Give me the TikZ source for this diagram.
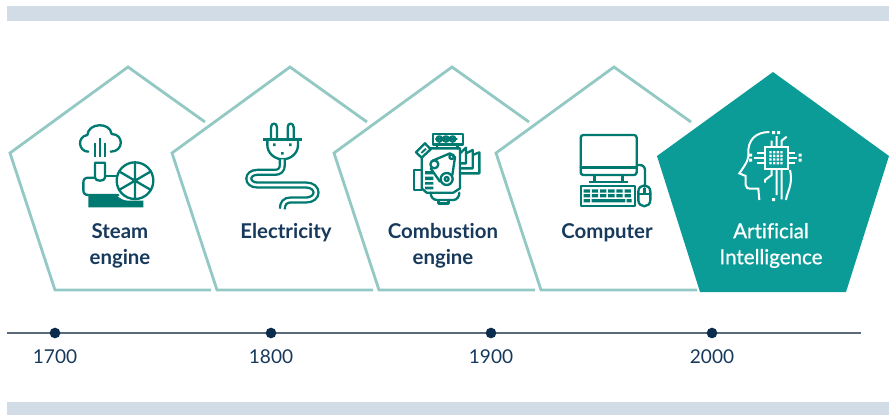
\documentclass[tikz,border=0pt]{standalone}
\usepackage{fontspec}
\setmainfont[Ligatures=NoCommon]{Lato}
\definecolor{teal1}{HTML}{007A70}
\definecolor{fillt}{HTML}{0C9C97}
\definecolor{pent}{HTML}{93C9C5}
\definecolor{barc}{HTML}{D1DCE6}
\definecolor{navy}{HTML}{0B2C4D}
\definecolor{txtc}{HTML}{17395C}
\definecolor{axisc}{HTML}{5A6A78}
\tikzset{
 x=0.75pt,y=-0.75pt,
 pentline/.style={draw=pent,line width=2.1pt,line cap=butt,line join=miter},
 axisdot/.style={circle,fill=navy,inner sep=0pt,minimum size=8pt},
 year/.style={text=txtc,font=\fontsize{14.3pt}{15pt}\selectfont,inner sep=0pt},
 lab/.style={text=txtc,font=\fontsize{15.3pt}{19.5pt}\selectfont\bfseries,align=center,inner sep=0pt},
 ic/.style={draw=teal1,line width=1.75pt,line cap=round,line join=round},
 icw/.style={draw=white,line width=1.5pt,line cap=butt,line join=miter},
 zoomed/.style={x=0.25pt,y=-0.25pt}
}
\begin{document}
\begin{tikzpicture}
\useasboundingbox (0,0) rectangle (889,415);
\fill[barc] (7,6) rectangle (889,21);
\fill[barc] (7,402) rectangle (889,415);
% pentagons
\foreach \d in {0,162,324,486}{
 \draw[pentline,xshift=\d*0.75pt] (205,122) -- (128,67) -- (10,153) -- (55,290) -- (211,290);
}
\fill[fillt] (773,72) -- (889,156) -- (846,292) -- (700,292) -- (657,156) -- cycle;
% labels
\node[lab] (steam) at (120,245.5) {Steam\\engine};
\node[lab] (elec) at (286,233) {Electricity};
\node[lab] (comb) at (443,245.5) {Combustion\\engine};
\node[lab] (comp) at (607,233) {Computer};
\node[lab,text=white,font=\fontsize{15.4pt}{19.5pt}\selectfont\addfontfeature{FakeBold=0.8}] (ai) at (771,245.5) {Artificial\\Intelligence};
% axis
\coordinate (axl) at (7,333); \coordinate (axr) at (861,333);
\draw[axisc,line width=0.85pt] (axl) -- (axr);
\node[axisdot] (d1) at (55,333) {}; \node[axisdot] (d2) at (271,333) {};
\node[axisdot] (d3) at (491,333) {}; \node[axisdot] (d4) at (712,333) {};
\node[year] (y1) at (55,357) {1700}; \node[year] (y2) at (271,357) {1800};
\node[year] (y3) at (491,357) {1900}; \node[year] (y4) at (712,357) {2000};
% steam icon
\begin{scope}[shift={(60,110)},zoomed]
\draw[ic] (85,125) .. controls (55,125) and (50,80) .. (82,75) .. controls (85,38) and (150,35) .. (155,72) .. controls (192,72) and (192,125) .. (152,125);
\draw[ic,line cap=butt] (105,100)--(105,142) (120,85)--(120,142) (135,100)--(135,142);
\draw[ic] (105,158)--(135,158)--(135,203) .. controls (135,215) and (105,215) .. (105,203) -- cycle;
\draw[ic] (105,203)--(85,203) .. controls (75,203) and (70,208) .. (70,218) -- (70,240) .. controls (70,250) and (75,255) .. (85,255) -- (175,255);
\draw[ic] (135,198)--(172,198);
\fill[teal1] (85,258)--(172,258) .. controls (180,265) and (190,272) .. (205,272) -- (250,272)--(250,292)--(85,292)--cycle;
\draw[ic] (225,212) circle (55);
\draw[ic] (225,157)--(225,267) (177,184)--(273,240) (177,240)--(273,184);
\end{scope}
% plug icon
\begin{scope}[shift={(230,110)},zoomed]
\draw[ic] (123,85)--(123,52) .. controls (123,37) and (141,37) .. (141,52) -- (141,85);
\draw[ic] (173,85)--(173,52) .. controls (173,37) and (191,37) .. (191,52) -- (191,85);
\draw[teal1,line width=1.8pt] (99,88)--(217,88);
\draw[ic] (112,90)--(112,105) .. controls (112,130) and (135,148) .. (158,148) .. controls (182,148) and (204,130) .. (204,105) -- (204,90);
\fill[teal1] (129,100) rectangle (137,108) (177,100) rectangle (185,108) (153,126) rectangle (161,134);
\draw[teal1,line width=1.75pt,double=white,double distance=1.9pt] (157,148)--(157,165) .. controls (157,180) and (148,187) .. (135,187) -- (82,187) .. controls (48,187) and (48,225) .. (82,225) -- (228,225) .. controls (268,225) and (268,270) .. (228,270) -- (182,270) .. controls (165,270) and (157,280) .. (157,297);
\end{scope}
% engine icon
\begin{scope}[shift={(400,120)},zoomed]
\draw[ic] (98,42) rectangle (188,73);
\draw[ic] (118,57) circle (8) (138,57) circle (8) (158,57) circle (8);
\draw[ic] (108,57)--(170,57);
\draw[ic] (110,73)--(110,85) (172,73)--(172,85);
\draw[ic] (88,85)--(180,85)--(180,205)--(160,218)--(80,218)--(65,205)--(65,115);
\draw[ic] (65,150)--(42,150)--(42,210)--(65,210);
\draw[ic] (48,97)--(75,70)--(92,88)--(65,113)--cycle;
\fill[teal1] (62,97)--(76,84)--(80,88)--(66,101)--cycle;
\draw[ic] (92,218) .. controls (92,232) and (100,240) .. (112,240) -- (160,240) .. controls (170,240) and (178,230) .. (178,218);
\draw[ic] (115,240)--(115,250)--(145,250)--(145,240);
\draw[ic] (98,122)--(150,100)--(165,112)--(157,165) (92,145)--(120,185);
\draw[ic] (103,133) circle (12) (155,110) circle (7) (140,177) circle (18) (140,177) circle (6);
\fill[teal1] (75,153) rectangle (100,163) (75,170) rectangle (100,180) (75,186) rectangle (100,194) (75,200) rectangle (100,208);
\draw[ic] (180,100)--(198,83)--(198,130)--(180,130) (198,100)--(218,90)--(218,145)--(180,145) (218,105)--(238,97)--(238,160)--(180,160);
\end{scope}
% computer icon
\begin{scope}[shift={(565,120)},zoomed]
\draw[ic,rounded corners=2pt] (47,45) rectangle (215,165);
\draw[ic] (47,142)--(215,142);
\draw[ic] (88,165)--(88,185) (172,165)--(172,185);
\draw[teal1,line width=1.4pt] (72,187)--(190,187);
\draw[ic] (47,198) rectangle (210,258);
\fill[teal1] \foreach \i in {0,...,5}{ (56+\i*24.5,208) rectangle ++(19,10) (56+\i*24.5,222) rectangle ++(19,10) };
\fill[teal1] (56,237) rectangle ++(19,10) (80,237) rectangle ++(101,10) (185,237) rectangle ++(15,10);
\draw[ic] (215,135)--(224,135) .. controls (235,135) and (240,142) .. (240,152) -- (240,198);
\draw[ic] (220,215) .. controls (220,190) and (256,190) .. (256,215) -- (256,240) .. controls (256,265) and (220,265) .. (220,240) -- cycle;
\draw[ic] (220,222)--(256,222) (238,205)--(238,222);
\end{scope}
% AI icon
\begin{scope}[shift={(725,120)},zoomed]
\draw[icw] (133,36) .. controls (90,36) and (68,62) .. (70,100) .. controls (71,115) and (68,125) .. (43,160) -- (62,168) -- (62,195) .. controls (62,203) and (68,206) .. (78,206) -- (100,206) -- (103,240);
\draw[icw] (183,240) .. controls (186,215) and (205,195) .. (195,150);
\draw[icw] (120,82) rectangle (190,147);
\fill[white] \foreach \i in {0,1,2,3}{\foreach \j in {0,1,2,3}{ (133+\i*11,93+\j*11) rectangle ++(7,7) }};
\draw[icw] (140,82)--(140,62) (155,82)--(155,48) (170,82)--(170,62)--(185,50);
\draw[icw] (120,100)--(95,100) (120,115)--(88,115) (120,130)--(95,130);
\draw[icw] (190,100)--(210,100) (190,115)--(215,115) (190,130)--(210,130);
\draw[icw] (140,147)--(140,165)--(120,180)--(120,188) (155,147)--(155,225) (170,147)--(170,238);
\fill[white] (141,33) rectangle ++(9,9) (156,33) rectangle ++(9,9) (72,101) rectangle ++(9,9) (72,116) rectangle ++(9,9) (221,101) rectangle ++(9,9) (221,116) rectangle ++(9,9) (141,234) rectangle ++(9,9);
\end{scope}
\end{tikzpicture}
\end{document}
